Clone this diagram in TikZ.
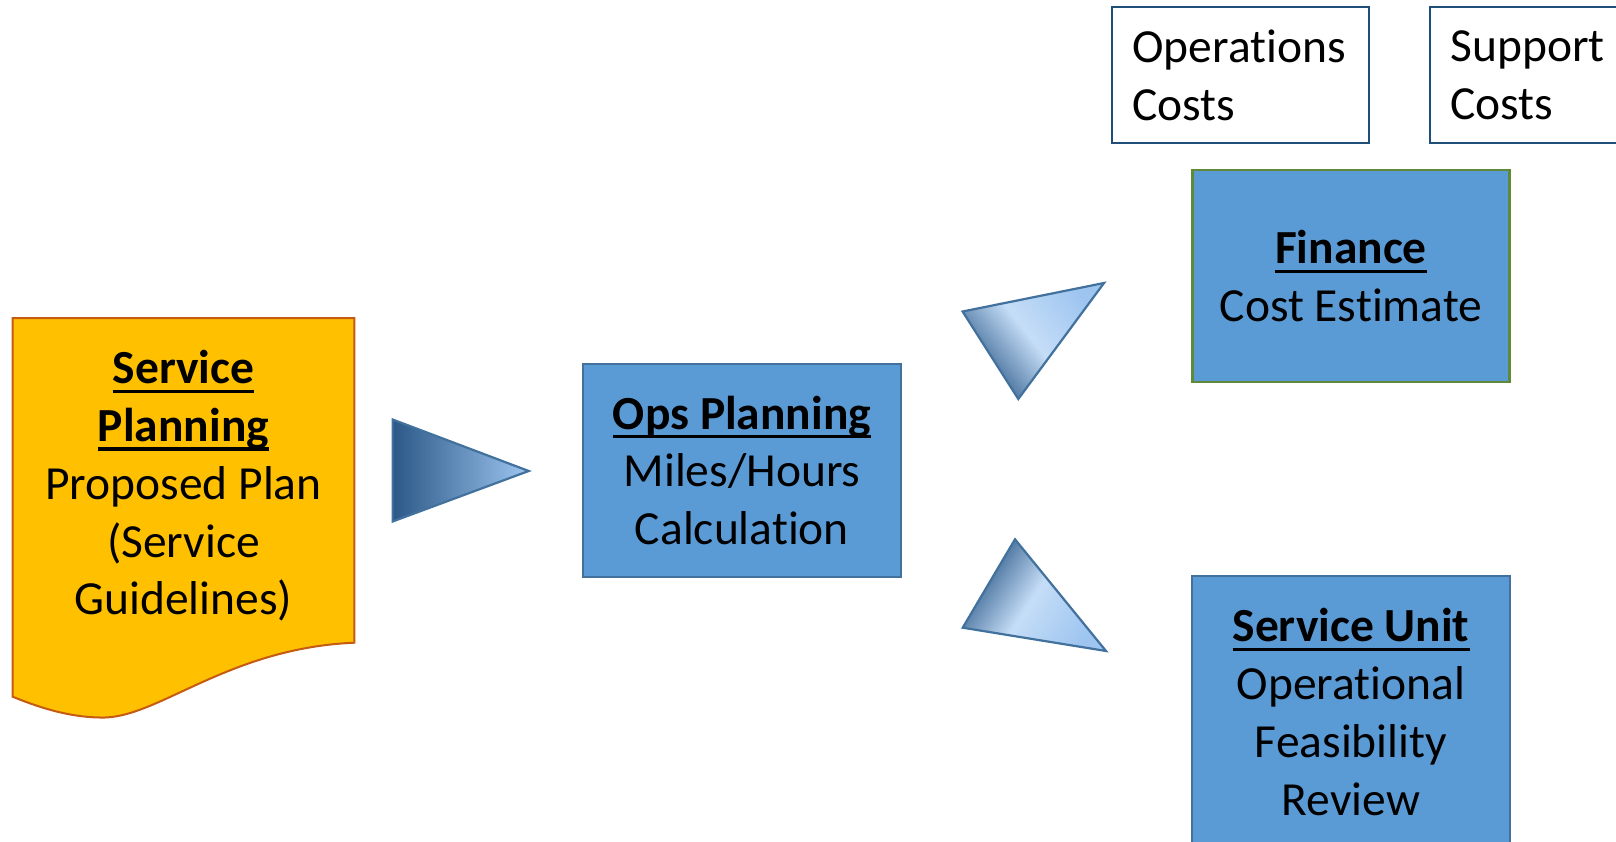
\documentclass[tikz,border=0pt]{standalone}
\usepackage{fontspec}
\setmainfont[Ligatures={NoCommon,NoContextual},Contextuals=NoAlternate]{Carlito}
\definecolor{gold}{HTML}{FFC000}
\definecolor{docborder}{HTML}{C55A11}
\definecolor{boxblue}{HTML}{5B9BD5}
\definecolor{boxborder}{HTML}{41719C}
\definecolor{finborder}{HTML}{5E8A3A}
\definecolor{costborder}{HTML}{1F4E79}
\definecolor{tdark}{HTML}{2B5887}
\definecolor{tlight}{HTML}{C5DDF7}
\definecolor{tmid}{HTML}{9EC5F0}
\newcommand\hdr[1]{{\bfseries\sbox0{#1}\rlap{\rule[-0.19em]{\wd0}{0.07em}}\usebox0}}
\begin{document}
\begin{tikzpicture}[x=1pt,y=-1pt,line join=miter,
  txt/.style={font=\fontsize{47.5}{57.7}\selectfont, align=center, inner sep=0pt},
  bluebox/.style={txt, draw=boxborder, fill=boxblue, line width=2.2pt},
  costbox/.style={font=\fontsize{47.5}{57.7}\selectfont, align=left, draw=costborder, line width=2.2pt,
     minimum width=257pt, minimum height=136.6pt, text width=216pt, inner xsep=20.5pt, inner ysep=0pt},
  tri/.style={draw=boxborder, line width=2.2pt}]
\useasboundingbox (0,0) rectangle (1616,842);
\clip (0,0) rectangle (1616,842);
% document shape
\draw[fill=gold, draw=docborder, line width=2pt]
  (12.7,318) -- (354.3,318) -- (354.3,642.7)
  .. controls (230,648) and (160,716) .. (105,717.5)
  .. controls (75,718) and (45,710) .. (12.7,696.7) -- cycle;
\node[txt] (sp) at (183.5,486) {\hdr{Service}\\\hdr{Planning}\\Proposed Plan\\(Service\\Guidelines)};
% arrows (triangles)
\draw[tri, left color=tdark, middle color=tlight, right color=tmid]
  (392.6,419.5) -- (528.7,471) -- (392.6,521.5) -- cycle;
\draw[tri, top color=tmid, bottom color=tdark, middle color=tlight, shading angle=-52]
  (962.6,311.5) -- (1104,283) -- (1018.3,399) -- cycle;
\draw[tri, top color=tmid, bottom color=tdark, middle color=tlight, shading angle=-123]
  (1015,539.3) -- (1106,651) -- (962.7,627.7) -- cycle;
% boxes
\node[bluebox, minimum width=318pt, minimum height=213pt] (ops) at (742,470.5)
  {\hdr{Ops Planning}\\Miles/Hours\\Calculation};
\node[bluebox, draw=finborder, minimum width=317pt, minimum height=212pt] (fin) at (1351,276.2)
  {\hdr{Finance}\\Cost Estimate};
\node[bluebox, minimum width=318pt, minimum height=272pt] (su) at (1351,712)
  {\hdr{Service Unit}\\Operational\\Feasibility\\Review};
\node[costbox] (oc) at (1240.5,75) {Operations\\Costs};
\node[costbox] (sc) at (1558.5,75) {Support\\Costs};
\end{tikzpicture}
\end{document}
